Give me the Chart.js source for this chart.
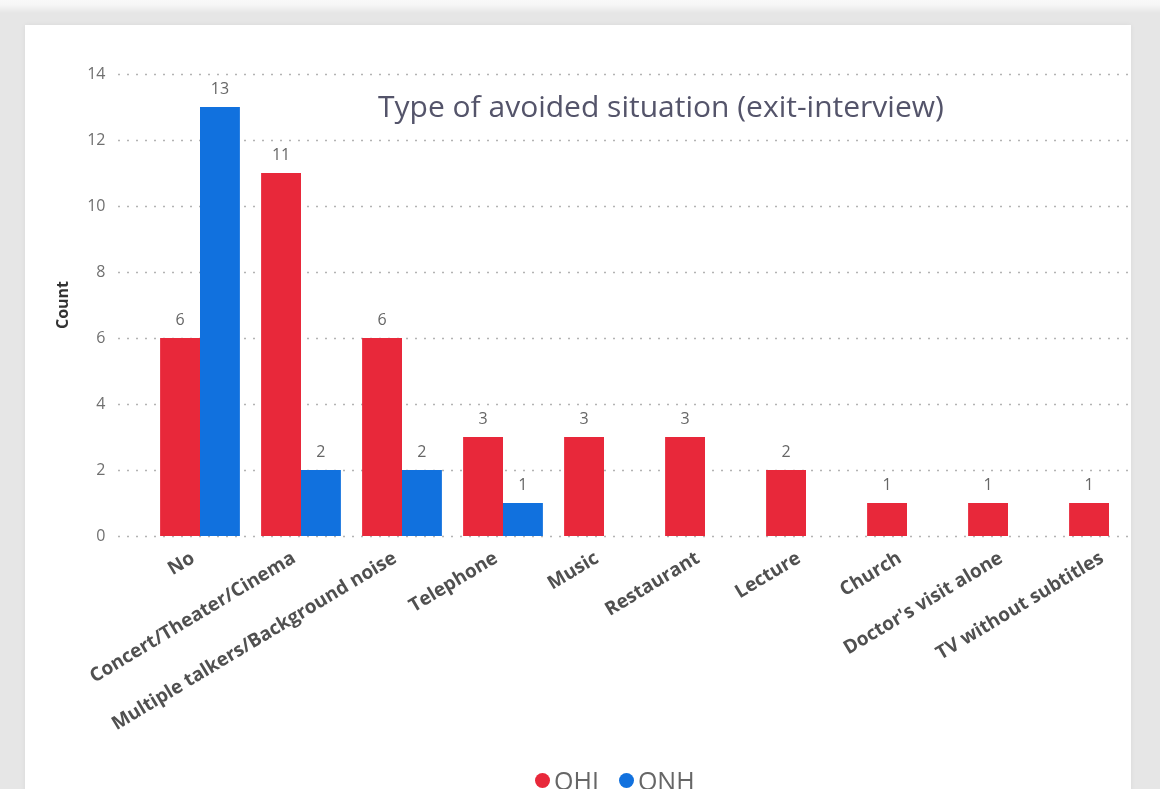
<!DOCTYPE html>
<html>
<head>
<meta charset="utf-8">
<script src="https://cdn.jsdelivr.net/npm/chart.js@4.4.1/dist/chart.umd.min.js"></script>
<style>
  html, body { margin: 0; padding: 0; }
  body {
    width: 1160px; height: 789px; overflow: hidden; position: relative;
    background: linear-gradient(to bottom, #f9f9f9 0px, #f6f6f6 5px, #e6e6e6 13px, #e6e6e6 100%);
    font-family: 'Open Sans', sans-serif;
  }
  #card {
    position: absolute; left: 25px; top: 25px; width: 1106px; height: 800px;
    background: #ffffff; box-shadow: 0 0 5px rgba(0,0,0,0.06);
  }
  #chart { position: absolute; left: 0; top: 0; }
  #title {
    position: absolute; left: 378px; top: 86px;
    font-size: 30px; line-height: 40px; color: #54546a; white-space: nowrap;
  }
  #legend {
    position: absolute; left: 535px; top: 764px; display: flex; align-items: center;
    font-size: 25px; line-height: 32px; color: #666666; white-space: nowrap;
  }
  #legend .item { display: flex; align-items: center; margin-right: 20px; }
  #legend .dot { width: 15px; height: 15px; border-radius: 50%; margin-right: 4px; }
</style>
</head>
<body>
<div id="card"></div>
<canvas id="chart" width="1160" height="789"></canvas>
<div id="title">Type of avoided situation (exit-interview)</div>
<div id="legend"></div>
<script>
// Avoided situations reported at the exit interview, per group
const categories = [
  'No',
  'Concert/Theater/Cinema',
  'Multiple talkers/Background noise',
  'Telephone',
  'Music',
  'Restaurant',
  'Lecture',
  'Church',
  "Doctor's visit alone",
  'TV without subtitles'
];
const seriesNames = ['OHI', 'ONH'];
const seriesColors = ['#e8283a', '#1171de'];
const ohiCounts = [6, 11, 6, 3, 3, 3, 2, 1, 1, 1];
const onhCounts = [13, 2, 2, 1, null, null, null, null, null, null];
const yTicks = [0, 2, 4, 6, 8, 10, 12, 14];

const seriesValues = [ohiCounts, onhCounts];

// Dotted horizontal guides at each y tick
const dottedGrid = {
  id: 'dottedGrid',
  beforeDatasetsDraw(chart) {
    const y = chart.scales.y;
    const ctx = chart.ctx;
    ctx.save();
    ctx.strokeStyle = '#b3b3b3';
    ctx.lineWidth = 1.7;
    ctx.setLineDash([2, 7]);
    y.ticks.forEach(t => {
      const py = Math.round(y.getPixelForValue(t.value)) + 0.5;
      ctx.beginPath();
      ctx.moveTo(118, py);
      ctx.lineTo(1128, py);
      ctx.stroke();
    });
    ctx.restore();
  }
};

// Count printed above each bar
const valueLabels = {
  id: 'valueLabels',
  afterDatasetsDraw(chart) {
    const ctx = chart.ctx;
    ctx.save();
    ctx.font = '16px "Open Sans", sans-serif';
    ctx.fillStyle = '#666666';
    ctx.textAlign = 'center';
    ctx.textBaseline = 'alphabetic';
    chart.data.datasets.forEach((ds, di) => {
      const meta = chart.getDatasetMeta(di);
      meta.data.forEach((bar, i) => {
        const v = ds.data[i];
        if (v === null || v === undefined) return;
        ctx.fillText(String(v), bar.x, bar.y - 13);
      });
    });
    ctx.restore();
  }
};

const chart = new Chart(document.getElementById('chart'), {
  type: 'bar',
  data: {
    labels: categories,
    datasets: seriesNames.map((name, k) => ({
      label: name,
      data: seriesValues[k],
      backgroundColor: seriesColors[k],
      borderWidth: 0,
      categoryPercentage: 0.79,
      barPercentage: 1.0
    }))
  },
  options: {
    responsive: false,
    animation: false,
    devicePixelRatio: 1,
    layout: { padding: { top: 74, right: 0.5, left: 0, bottom: 0 } },
    plugins: {
      legend: { display: false },
      title: { display: false },
      tooltip: { enabled: false }
    },
    scales: {
      x: {
        grid: { display: false, drawTicks: false },
        border: { display: false },
        ticks: {
          autoSkip: false,
          maxRotation: 31,
          minRotation: 31,
          padding: 11,
          labelOffset: -7,
          color: '#505050',
          font: { family: 'Open Sans', size: 19, weight: 'bold' }
        },
        afterFit(scale) { scale.height = 253; }
      },
      y: {
        min: 0,
        max: 14,
        afterBuildTicks(scale) { scale.ticks = yTicks.map(v => ({ value: v })); },
        grid: { display: false, drawTicks: false },
        border: { display: false },
        ticks: {
          padding: 44,
          color: '#707070',
          font: { family: 'Open Sans', size: 16 }
        },
        title: {
          display: true,
          text: 'Count',
          color: '#333333',
          font: { family: 'Open Sans', size: 16, weight: 'bold' },
          padding: { top: 54, bottom: 0 }
        },
        afterFit(scale) { scale.width = 149.5; }
      }
    }
  },
  plugins: [dottedGrid, valueLabels]
});

// Legend built from the series names and colours
const legend = document.getElementById('legend');
seriesNames.forEach((name, k) => {
  const item = document.createElement('div');
  item.className = 'item';
  const dot = document.createElement('span');
  dot.className = 'dot';
  dot.style.background = seriesColors[k];
  const txt = document.createElement('span');
  txt.textContent = name;
  item.appendChild(dot);
  item.appendChild(txt);
  legend.appendChild(item);
});
</script>
</body>
</html>
